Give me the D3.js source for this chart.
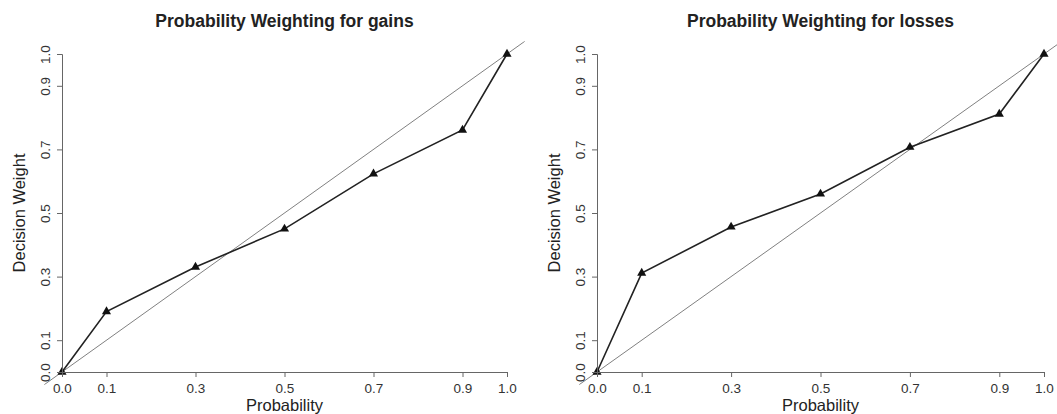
<!DOCTYPE html>
<meta charset="utf-8">
<head>
<title>Probability Weighting</title>
<script src="https://cdn.jsdelivr.net/npm/d3@7"></script>
<style>
    body { margin: 0; background: #fff; }
    text { font-family: "Liberation Sans", Arial, sans-serif; fill: #222; }
    .axis path, .axis line { stroke: #666; }
</style>
</head>
<body>
<div id="chart"></div>
<script>

    // probabilities shown on the x axis
    var probs = [0, 0.1, 0.3, 0.5, 0.7, 0.9, 1.0];
    // decision weights
    var gains = [0, 0.19, 0.33, 0.45, 0.623, 0.761, 1.0];
    var losses = [0, 0.311, 0.456, 0.56, 0.707, 0.811, 1.0];
    var tickVals = [0, 0.1, 0.3, 0.5, 0.7, 0.9, 1.0];
    var titles = ["Probability Weighting for gains", "Probability Weighting for losses"];

    var width = 1057, height = 414;

    var svg = d3.select("#chart").append("svg")
        .attr("width", width)
        .attr("height", height);

    // pixel range of the 0..1 axes for each panel
    var panels = [
        {title: titles[0], vals: gains, x0: 62, x1: 507},
        {title: titles[1], vals: losses, x0: 597, x1: 1044}
    ];
    var yTop = 54, yBot = 372;
    var fmt = d3.format(".1f");

    panels.forEach(function (p, i) {
        var x = d3.scaleLinear().domain([0, 1]).range([p.x0, p.x1]);
        var y = d3.scaleLinear().domain([0, 1]).range([yBot, yTop]);
        var g = svg.append("g");

        // plot region is 4% wider than the data range, like R
        var clipId = "clip" + i;
        svg.append("clipPath").attr("id", clipId)
            .append("rect")
            .attr("x", x(-0.04)).attr("y", y(1.04))
            .attr("width", x(1.04) - x(-0.04))
            .attr("height", y(-0.04) - y(1.04));

        // 45 degree reference line
        g.append("line")
            .attr("clip-path", "url(#" + clipId + ")")
            .attr("x1", x(-0.5)).attr("y1", y(-0.5))
            .attr("x2", x(1.5)).attr("y2", y(1.5))
            .attr("stroke", "#808080")
            .attr("stroke-width", 1);

        var pts = probs.map(function (d, j) { return [d, p.vals[j]]; });

        g.append("path")
            .datum(pts)
            .attr("fill", "none")
            .attr("stroke", "#222")
            .attr("stroke-width", 1.6)
            .attr("d", d3.line().x(function (d) { return x(d[0]); }).y(function (d) { return y(d[1]); }));

        g.selectAll(".pt").data(pts).enter()
            .append("path")
            .attr("class", "pt")
            .attr("transform", function (d) { return "translate(" + x(d[0]) + "," + y(d[1]) + ")"; })
            .attr("d", d3.symbol().type(d3.symbolTriangle).size(36))
            .attr("fill", "#111");

        // x axis
        var xa = g.append("g").attr("class", "axis")
            .attr("transform", "translate(0," + yBot + ")")
            .call(d3.axisBottom(x).tickValues(tickVals).tickFormat(fmt).tickSizeOuter(0).tickSize(5));
        xa.selectAll("text").attr("font-size", 13.5).attr("dy", 0).attr("y", 20.5)
            .style("font-family", "Liberation Sans, Arial, sans-serif").style("fill", "#333");

        // y axis with rotated labels
        var ya = g.append("g").attr("class", "axis")
            .attr("transform", "translate(" + p.x0 + ",0)")
            .call(d3.axisLeft(y).tickValues(tickVals).tickFormat(fmt).tickSizeOuter(0).tickSize(5));
        ya.selectAll("text")
            .attr("x", null).attr("dy", null)
            .attr("text-anchor", "middle")
            .attr("transform", "translate(-12,0) rotate(-90)")
            .attr("font-size", 13.5)
            .style("font-family", "Liberation Sans, Arial, sans-serif").style("fill", "#333");

        var cx = (x(-0.04) + x(1.04)) / 2;

        g.append("text")
            .attr("x", cx).attr("y", 27)
            .attr("text-anchor", "middle")
            .attr("font-size", 17.5)
            .attr("font-weight", "bold")
            .text(p.title);

        g.append("text")
            .attr("x", cx).attr("y", 411)
            .attr("text-anchor", "middle")
            .attr("font-size", 16.5)
            .text("Probability");

        g.append("text")
            .attr("transform", "translate(" + (p.x0 - 37) + "," + ((y(-0.04) + y(1.04)) / 2) + ") rotate(-90)")
            .attr("text-anchor", "middle")
            .attr("font-size", 16.5)
            .text("Decision Weight");
    });
</script>
</body>
</html>
